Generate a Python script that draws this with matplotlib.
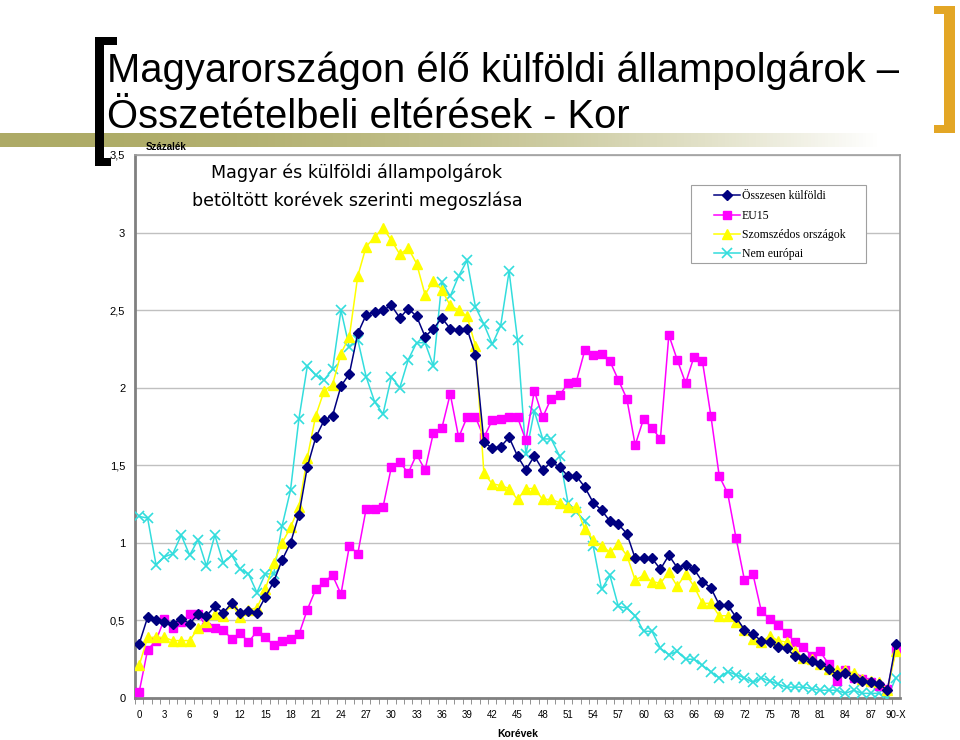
import numpy as np
import matplotlib
matplotlib.use("Agg")
from matplotlib import pyplot as plt
from matplotlib.patches import Rectangle
from matplotlib.ticker import FixedLocator, FuncFormatter

# korévek: 0..89 és 90-X
ages = list(range(90)) + ['90-X']

osszesen = [0.35, 0.52, 0.50, 0.49, 0.48, 0.51, 0.48, 0.54, 0.53, 0.59, 0.55, 0.61, 0.55, 0.56, 0.55,
            0.65, 0.75, 0.89, 1.00, 1.18, 1.49, 1.68, 1.79, 1.82, 2.01, 2.09, 2.35, 2.47, 2.49, 2.50,
            2.53, 2.45, 2.51, 2.46, 2.33, 2.38, 2.45, 2.38, 2.37, 2.38, 2.21, 1.65, 1.61, 1.62, 1.68,
            1.56, 1.47, 1.56, 1.47, 1.52, 1.49, 1.43, 1.43, 1.36, 1.26, 1.21, 1.14, 1.12, 1.06, 0.90,
            0.90, 0.90, 0.83, 0.92, 0.84, 0.86, 0.83, 0.75, 0.71, 0.60, 0.60, 0.52, 0.44, 0.41, 0.37,
            0.36, 0.33, 0.32, 0.27, 0.26, 0.24, 0.22, 0.19, 0.15, 0.16, 0.13, 0.11, 0.10, 0.09, 0.05,
            0.35]
eu15 = [0.04, 0.31, 0.37, 0.51, 0.45, 0.49, 0.54, 0.54, 0.46, 0.45, 0.44, 0.38, 0.42, 0.36, 0.43,
        0.39, 0.34, 0.37, 0.38, 0.41, 0.57, 0.70, 0.75, 0.79, 0.67, 0.98, 0.93, 1.22, 1.22, 1.23,
        1.49, 1.52, 1.45, 1.57, 1.47, 1.71, 1.74, 1.96, 1.68, 1.81, 1.81, 1.68, 1.79, 1.80, 1.81,
        1.81, 1.66, 1.98, 1.81, 1.93, 1.95, 2.03, 2.04, 2.24, 2.21, 2.22, 2.17, 2.05, 1.93, 1.63,
        1.80, 1.74, 1.67, 2.34, 2.18, 2.03, 2.20, 2.17, 1.82, 1.43, 1.32, 1.03, 0.76, 0.80, 0.56,
        0.51, 0.47, 0.42, 0.36, 0.33, 0.27, 0.30, 0.22, 0.11, 0.18, 0.13, 0.12, 0.10, 0.08, 0.06,
        0.31]
szomszedos = [0.21, 0.39, 0.39, 0.39, 0.37, 0.37, 0.37, 0.45, 0.49, 0.54, 0.53, 0.61, 0.52, 0.57, 0.58,
              0.70, 0.87, 1.00, 1.10, 1.23, 1.55, 1.82, 1.98, 2.02, 2.22, 2.33, 2.72, 2.91, 2.97, 3.03,
              2.95, 2.86, 2.90, 2.80, 2.60, 2.69, 2.63, 2.53, 2.50, 2.46, 2.27, 1.45, 1.38, 1.37, 1.35,
              1.28, 1.35, 1.35, 1.28, 1.28, 1.26, 1.23, 1.23, 1.09, 1.02, 0.98, 0.94, 0.99, 0.92, 0.76,
              0.79, 0.75, 0.74, 0.81, 0.72, 0.80, 0.72, 0.61, 0.61, 0.53, 0.53, 0.49, 0.44, 0.38, 0.36,
              0.40, 0.37, 0.36, 0.30, 0.26, 0.25, 0.22, 0.19, 0.18, 0.18, 0.16, 0.12, 0.11, 0.10, 0.05,
              0.30]
nem_europai = [1.17, 1.16, 0.86, 0.91, 0.93, 1.05, 0.92, 1.02, 0.85, 1.05, 0.87, 0.92, 0.83, 0.80, 0.68,
               0.80, 0.80, 1.11, 1.34, 1.80, 2.14, 2.08, 2.05, 2.12, 2.50, 2.26, 2.31, 2.07, 1.91, 1.83,
               2.07, 2.00, 2.18, 2.29, 2.29, 2.14, 2.68, 2.59, 2.72, 2.82, 2.52, 2.41, 2.28, 2.40, 2.75,
               2.31, 1.57, 1.85, 1.67, 1.67, 1.56, 1.26, 1.20, 1.14, 0.98, 0.70, 0.79, 0.59, 0.58, 0.53,
               0.43, 0.43, 0.32, 0.28, 0.30, 0.25, 0.25, 0.21, 0.17, 0.13, 0.17, 0.15, 0.13, 0.10, 0.13,
               0.11, 0.09, 0.07, 0.07, 0.07, 0.06, 0.05, 0.05, 0.05, 0.03, 0.05, 0.03, 0.03, 0.03, 0.00,
               0.13]

series_names = ['Összesen külföldi', 'EU15', 'Szomszédos országok', 'Nem európai']

W, H = 960, 740


def fx(px):
    return px / W


def fy(py):
    return 1 - py / H


fig = plt.figure(figsize=(9.6, 7.4), dpi=100)

# olajzöld sáv (színátmenet)
band = fig.add_axes([fx(0), fy(147), fx(880), (147 - 133) / H])
grad = np.linspace(0, 1, 256)
olive = np.array([0.68, 0.67, 0.40])
rgb = olive[None, :] * (1 - grad[:, None] ** 2) + np.ones(3)[None, :] * grad[:, None] ** 2
band.imshow(rgb[None, :, :], aspect='auto', extent=[0, 1, 0, 1])
band.axis('off')

# fekete bal szögletes zárójel
black = 'black'
fig.add_artist(Rectangle((fx(95), fy(166)), fx(9), (166 - 37) / H, transform=fig.transFigure, color=black, lw=0))
fig.add_artist(Rectangle((fx(95), fy(45)), fx(22), 8 / H, transform=fig.transFigure, color=black, lw=0))
fig.add_artist(Rectangle((fx(95), fy(166)), fx(16), 8 / H, transform=fig.transFigure, color=black, lw=0))
# arany jobb zárójel
gold = '#E3A625'
fig.add_artist(Rectangle((fx(944), fy(133)), fx(11), (133 - 6) / H, transform=fig.transFigure, color=gold, lw=0))
fig.add_artist(Rectangle((fx(934), fy(14)), fx(21), 8 / H, transform=fig.transFigure, color=gold, lw=0))
fig.add_artist(Rectangle((fx(934), fy(133)), fx(21), 8 / H, transform=fig.transFigure, color=gold, lw=0))

# cím
fig.text(fx(107), fy(82), 'Magyarországon élő külföldi állampolgárok –', fontsize=28.8,
         family='Liberation Sans', va='baseline', ha='left')
fig.text(fx(107), fy(128), 'Összetételbeli eltérések - Kor', fontsize=28.8,
         family='Liberation Sans', va='baseline', ha='left')

# diagram
ax = fig.add_axes([fx(135), fy(698), fx(900 - 135), (698 - 155) / H])
x = np.arange(len(ages))

ax.plot(x, osszesen, color='#000080', marker='D', markersize=5, lw=1.1, label=series_names[0], zorder=6)
ax.plot(x, eu15, color='#FF00FF', marker='s', markersize=6, lw=1.1, label=series_names[1], zorder=4)
ax.plot(x, szomszedos, color='#FFFF00', marker='^', markersize=6.5, lw=1.1, label=series_names[2], zorder=5)
ax.plot(x, nem_europai, color='#33DDDD', marker='x', markersize=7, mew=1.2, lw=1.1, label=series_names[3], zorder=3)

ax.set_xlim(-0.5, len(ages) - 0.5)
ax.set_ylim(0, 3.5)
ax.set_yticks(np.arange(0, 3.51, 0.5))
ax.yaxis.set_major_formatter(FuncFormatter(lambda v, p: ('%g' % v).replace('.', ',')))
ax.grid(axis='y', color='#C0C0C0', lw=1)
ax.set_axisbelow(True)

ax.set_xticks(x[::3])
ax.set_xticklabels([str(a) for a in ages[::3]])
ax.xaxis.set_minor_locator(FixedLocator(x - 0.5))
ax.tick_params(axis='x', which='major', length=0, labelsize=7, pad=9)
ax.tick_params(axis='x', which='minor', length=4, color='#808080', direction='out')
ax.tick_params(axis='y', length=0, labelsize=8, pad=7)
for lab in ax.get_xticklabels() + ax.get_yticklabels():
    lab.set_family('Liberation Sans')

for side in ['top', 'right']:
    ax.spines[side].set_color('#A0A0A0')
    ax.spines[side].set_linewidth(1.2)
for side in ['left', 'bottom']:
    ax.spines[side].set_color('#808080')
    ax.spines[side].set_linewidth(2)

ax.text(0.29, 0.985, 'Magyar és külföldi állampolgárok\nbetöltött korévek szerinti megoszlása',
        transform=ax.transAxes, ha='center', va='top', fontsize=12.6, linespacing=1.7)

fig.text(fx(166), fy(150), 'Százalék', fontsize=7, fontweight='bold', family='Liberation Sans',
         ha='center', va='baseline')
fig.text(fx(518), fy(737), 'Korévek', fontsize=7.5, fontweight='bold', family='Liberation Sans',
         ha='center', va='baseline')

# jelmagyarázat: keret külön, a bejegyzések keret nélkül
ax.add_patch(Rectangle((fx(691), fy(263)), fx(866 - 691), (263 - 185) / H, transform=fig.transFigure,
                       facecolor='white', edgecolor='#A0A0A0', lw=0.8, zorder=7, clip_on=False))
leg = ax.legend(loc='upper left', bbox_to_anchor=(fx(712), fy(188)), bbox_transform=fig.transFigure,
                prop={'family': 'Liberation Serif', 'size': 8.5}, frameon=False,
                borderpad=0.2, labelspacing=0.62, handlelength=2.2,
                handletextpad=0.1, borderaxespad=0)
leg.set_zorder(8)

fig.savefig('out.png', dpi=100)
